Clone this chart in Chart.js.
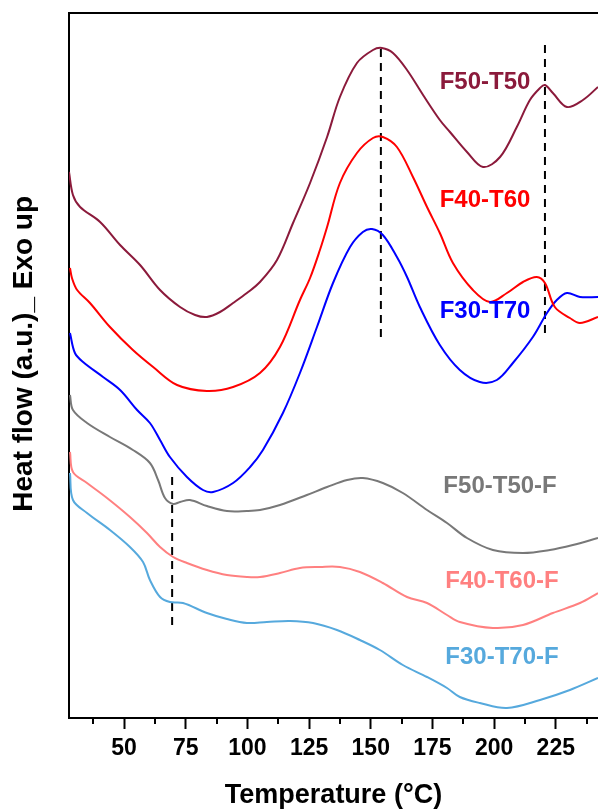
<!DOCTYPE html>
<html><head><meta charset="utf-8">
<script src="https://cdn.jsdelivr.net/npm/chart.js@4.4.1/dist/chart.umd.min.js"></script>
<style>html,body{margin:0;padding:0;background:#fff;overflow:hidden}</style>
</head><body>
<canvas id="c" width="598" height="809" style="display:block;width:598px;height:809px"></canvas>
<script>
// ---- data (temperature in °C, heat flow in arbitrary units) ----
const t_F50T50 = [27.7,29.3,32.2,40.3,48.4,56.5,64.6,72.7,78.8,83.6,88.9,94.2,99.8,105.1,112.0,118.5,125.4,132.3,137.5,144.4,150.9,154.5,159.0,164.7,171.2,178.0,182.1,189.0,195.5,202.4,209.2,214.5,218.6,220.6,223.8,229.5,236.0,242.1];
const y_F50T50 = [5.46,5.23,5.11,4.96,4.73,4.53,4.28,4.11,4.03,4.01,4.06,4.15,4.25,4.36,4.58,4.95,5.35,5.81,6.21,6.55,6.68,6.70,6.65,6.48,6.23,5.98,5.86,5.66,5.51,5.61,5.91,6.18,6.30,6.33,6.25,6.11,6.18,6.31];

const t_F40T60 = [28.1,28.9,31.0,36.2,44.3,53.6,61.8,71.5,83.6,94.2,105.1,113.2,121.3,125.4,129.4,132.3,137.5,144.4,150.9,154.9,160.6,167.1,172.8,178.0,183.3,191.4,198.3,205.2,211.7,217.3,220.6,224.6,230.7,234.8,242.1];
const y_F40T60 = [4.50,4.40,4.28,4.15,3.91,3.68,3.51,3.33,3.27,3.31,3.45,3.71,4.18,4.40,4.68,4.91,5.35,5.65,5.80,5.81,5.71,5.41,5.11,4.85,4.55,4.28,4.16,4.25,4.36,4.41,4.35,4.11,4.00,3.95,4.01];

const t_F30T70 = [28.1,30.1,33.4,41.5,48.4,55.3,60.5,64.6,68.6,75.5,82.0,86.1,94.2,101.1,106.3,114.4,121.3,128.2,134.7,141.6,146.8,150.5,154.9,160.6,164.7,169.9,178.0,186.1,194.2,201.1,207.6,215.7,221.4,225.4,229.5,234.8,242.1];
const y_F30T70 = [3.85,3.65,3.56,3.41,3.28,3.08,2.95,2.78,2.61,2.41,2.28,2.26,2.35,2.51,2.68,3.05,3.45,3.91,4.35,4.71,4.86,4.89,4.83,4.61,4.41,4.11,3.73,3.48,3.36,3.38,3.55,3.81,4.05,4.18,4.25,4.21,4.21];

const t_F50T50F = [28.1,29.3,35.0,44.3,53.6,60.5,63.8,66.6,69.9,72.7,76.7,83.6,91.7,99.8,105.1,113.2,124.1,132.3,140.4,146.8,154.9,163.0,172.8,180.9,189.0,199.5,211.7,222.6,231.9,242.1];
const y_F50T50F = [3.23,3.08,2.95,2.81,2.68,2.55,2.38,2.20,2.14,2.16,2.18,2.12,2.07,2.07,2.08,2.13,2.23,2.31,2.38,2.40,2.35,2.25,2.08,1.95,1.80,1.68,1.65,1.68,1.73,1.80];

const t_F40T60F = [28.1,29.3,35.0,43.1,52.4,59.3,64.6,69.9,75.5,83.6,91.7,99.8,105.1,113.2,121.3,129.4,137.5,145.6,154.9,164.7,172.8,180.9,186.1,199.5,211.7,223.8,234.8,242.1];
const y_F40T60F = [2.66,2.46,2.35,2.20,2.01,1.85,1.71,1.61,1.55,1.48,1.43,1.41,1.41,1.45,1.50,1.51,1.51,1.46,1.35,1.21,1.15,1.03,0.96,0.90,0.93,1.05,1.15,1.25];

const t_F30T70F = [28.1,29.3,35.0,44.3,52.4,57.7,60.5,64.6,68.6,73.9,83.6,91.7,99.8,107.9,117.3,126.6,136.3,145.6,153.7,163.0,172.8,180.9,186.1,194.2,205.2,218.6,230.7,242.1];
const y_F30T70F = [2.45,2.18,2.05,1.88,1.71,1.56,1.38,1.21,1.16,1.15,1.05,0.99,0.95,0.96,0.97,0.95,0.88,0.78,0.68,0.53,0.41,0.30,0.21,0.15,0.10,0.18,0.28,0.40];

// vertical dashed reference lines: temperature, lower and upper heat-flow extent
const refT    = [154.1, 220.6, 69.5];
const refLow  = [3.81, 3.85, 0.93];
const refHigh = [6.73, 6.74, 2.44];

// series labels and their anchor positions
const seriesNames  = ['F50-T50','F40-T60','F30-T70','F50-T50-F','F40-T60-F','F30-T70-F'];
const seriesColors = ['#8B1A3B','#FF0000','#0000FF','#787878','#FF8080','#56A9DD'];
const labelT = [196.3,196.3,196.3,202.4,203.2,203.2];
const labelY = [6.36,5.18,4.07,2.32,1.37,0.61];

const majorTicks = [50,75,100,125,150,175,200,225];
const minorTicks = [37.5,62.5,87.5,112.5,137.5,162.5,187.5,212.5,237.5];

const xMin = 27.7, xMax = 242.1, yMin = 0, yMax = 7.05;
const FONT = 'Arial, "Liberation Sans", sans-serif';

const seriesT = [t_F50T50,t_F40T60,t_F30T70,t_F50T50F,t_F40T60F,t_F30T70F];
const seriesY = [y_F50T50,y_F40T60,y_F30T70,y_F50T50F,y_F40T60F,y_F30T70F];

const datasets = seriesNames.map((n,i)=>({
  label: n,
  data: seriesT[i].map((t,j)=>({x:t,y:seriesY[i][j]})),
  borderColor: seriesColors[i],
  borderWidth: 2,
  pointRadius: 0,
  tension: 0.35,
  fill: false
}));
refT.forEach((t,i)=>datasets.push({
  label: 'ref'+i,
  data: [{x:t,y:refLow[i]},{x:t,y:refHigh[i]}],
  borderColor: '#000',
  borderWidth: 2,
  borderDash: [8,6],
  pointRadius: 0,
  tension: 0
}));

const decor = {
  id: 'decor',
  afterDraw(chart){
    const {ctx, chartArea:a, scales:{x,y}} = chart;
    ctx.save();
    ctx.strokeStyle = '#000'; ctx.lineWidth = 2;
    ctx.beginPath(); ctx.moveTo(a.left-1, a.top); ctx.lineTo(a.right, a.top); ctx.stroke();
    minorTicks.forEach(v=>{
      const px = Math.round(x.getPixelForValue(v));
      ctx.beginPath(); ctx.moveTo(px, a.bottom); ctx.lineTo(px, a.bottom+6); ctx.stroke();
    });
    ctx.font = 'bold 24px ' + FONT;
    ctx.textAlign = 'center'; ctx.textBaseline = 'middle';
    seriesNames.forEach((n,i)=>{
      ctx.fillStyle = seriesColors[i];
      ctx.fillText(n, x.getPixelForValue(labelT[i]), y.getPixelForValue(labelY[i]));
    });
    ctx.restore();
  }
};

new Chart(document.getElementById('c'), {
  type: 'line',
  data: { datasets },
  options: {
    responsive: false,
    devicePixelRatio: 1,
    animation: false,
    layout: { padding: { top: 13, right: 0, left: 0, bottom: 0 } },
    plugins: { legend: {display:false}, tooltip: {enabled:false} },
    scales: {
      x: {
        type: 'linear', min: xMin, max: xMax,
        afterFit: s => { s.height = 91; },
        afterBuildTicks: s => { s.ticks = majorTicks.map(v=>({value:v})); },
        grid: { display: true, drawOnChartArea: false, drawTicks: true, tickLength: 11, tickWidth: 2, tickColor: '#000' },
        border: { display: true, color: '#000', width: 2 },
        ticks: { color: '#000', font: { family: FONT, size: 23, weight: 'bold' }, padding: 6, maxRotation: 0, autoSkip: false, callback: v => String(v) },
        title: { display: true, text: 'Temperature (°C)', color: '#000', font: { family: FONT, size: 27, weight: 'bold', lineHeight: 1 }, padding: { top: 0, bottom: 0 } }
      },
      y: {
        type: 'linear', min: yMin, max: yMax,
        afterFit: s => { s.width = 69; },
        grid: { display: false },
        border: { display: true, color: '#000', width: 2 },
        ticks: { display: false },
        title: { display: true, text: '   Heat flow (a.u.)_ Exo up', color: '#000', font: { family: FONT, size: 28, weight: 'bold', lineHeight: 1 }, padding: { top: 10, bottom: 0 } }
      }
    }
  },
  plugins: [decor]
});
</script>
</body></html>
